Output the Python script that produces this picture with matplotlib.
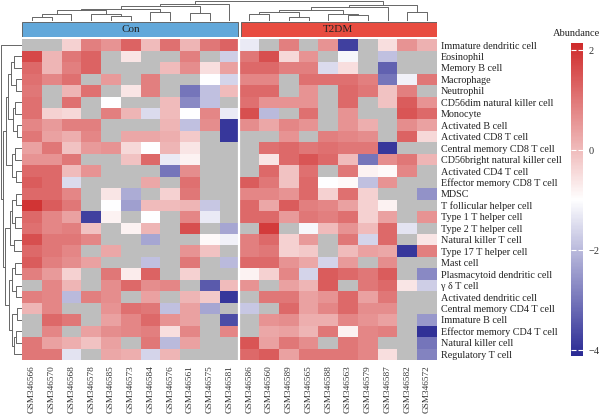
import numpy as np
import matplotlib
matplotlib.use("Agg")
import matplotlib.pyplot as plt
from matplotlib.colors import LinearSegmentedColormap
from matplotlib.patches import Rectangle

plt.rcParams['font.family'] = ['Liberation Serif', 'DejaVu Serif']

nan = np.nan

# samples (columns) and cell types (rows)
con_samples = ["GSM346566", "GSM346570", "GSM346568", "GSM346578", "GSM346585", "GSM346573",
               "GSM346584", "GSM346576", "GSM346561", "GSM346575", "GSM346581"]
t2dm_samples = ["GSM346586", "GSM346560", "GSM346589", "GSM346565", "GSM346588", "GSM346563",
                "GSM346579", "GSM346587", "GSM346582", "GSM346572"]
cell_types = ["Immature dendritic cell", "Eosinophil", "Memory B cell", "Macrophage", "Neutrophil",
              "CD56dim natural killer cell", "Monocyte", "Activated B cell", "Activated CD8 T cell",
              "Central memory CD8 T cell", "CD56bright natural killer cell", "Activated CD4 T cell",
              "Effector memory CD8 T cell", "MDSC", "T follicular helper cell", "Type 1 T helper cell",
              "Type 2 T helper cell", "Natural killer T cell", "Type 17 T helper cell", "Mast cell",
              "Plasmacytoid dendritic cell", "\u03b3 \u03b4 T cell", "Activated dendritic cell",
              "Central memory CD4 T cell", "Immature B cell", "Effector memory CD4 T cell",
              "Natural killer cell", "Regulatory T cell"]

# abundance, one list per cell type: 11 Con values then 10 T2DM values (nan = grey)
abundance = [
    [nan, nan, -0.3, 0.9, 0.6, 1.3, 0.0, 1.1, 0.1, 1.0, 1.3, -1.3, nan, 0.9, nan, 0.6, -3.8, nan, -0.5, 0.6, 0.15],
    [1.7, 0.1, 1.0, 1.3, nan, -0.6, nan, nan, 0.9, nan, -1.7, 1.0, 1.6, -0.4, 0.6, nan, -1.1, nan, -1.9, nan, nan],
    [1.2, 0.1, 0.9, 1.3, nan, nan, nan, 0.0, 0.7, -0.5, 0.4, 1.2, 1.2, 0.9, 0.9, -1.5, -0.5, nan, -3.3, nan, nan],
    [1.1, 0.8, 1.1, nan, 0.5, nan, 0.9, nan, nan, -1.0, -1.6, 0.8, 0.8, nan, 1.1, 1.1, 1.1, 0.9, -3.0, -1.2, 1.0],
    [1.0, nan, 0.1, 1.1, nan, -0.6, 0.9, nan, -3.0, -1.9, 0.0, 1.2, 1.2, nan, 0.6, nan, 1.2, 1.0, -0.1, 0.9, nan],
    [1.1, nan, 1.1, nan, -1.0, nan, nan, 0.0, -2.7, -1.9, nan, 1.1, 0.6, 0.6, 0.6, nan, 1.2, nan, -0.1, 1.4, 0.6],
    [1.1, -0.3, -0.4, nan, 0.9, 0.1, -1.5, 0.0, -1.0, 0.8, -1.3, 1.6, -2.0, nan, 1.1, nan, 0.6, nan, nan, 1.5, 1.2],
    [0.8, 0.5, 0.9, 0.9, nan, nan, nan, 0.1, -1.9, 0.7, -3.9, 0.7, 0.3, 0.8, 0.6, nan, 0.6, 0.2, nan, 0.7, 0.4],
    [1.0, 0.4, 0.2, 0.8, nan, 0.3, 0.3, 0.2, -0.2, nan, -3.9, nan, nan, 0.6, nan, 0.9, 0.8, 0.7, nan, 1.3, -0.4],
    [0.4, 1.0, -0.1, 0.5, 0.6, -0.4, -1.0, 0.1, -0.6, nan, nan, nan, 1.1, 1.2, 1.0, 1.1, 1.0, 1.0, -3.9, nan, nan],
    [0.6, 0.6, 1.0, nan, nan, -0.1, 1.2, -1.3, -0.8, nan, nan, nan, -0.6, 1.2, 1.5, 1.2, 0.0, -3.0, 0.7, 1.0, 0.1],
    [1.2, 1.2, 0.0, 0.6, nan, nan, nan, -3.0, 0.7, nan, nan, nan, 1.2, -0.1, 1.1, nan, 1.0, -0.8, -0.9, 0.8, nan],
    [1.4, 1.2, -1.5, nan, nan, nan, 0.3, nan, 1.1, nan, nan, 1.4, 1.0, -0.1, 1.2, -1.0, -0.9, -1.9, 0.6, nan, nan],
    [1.2, 1.2, 0.8, nan, -0.6, -2.2, nan, -0.3, 1.0, nan, nan, 0.8, 0.8, 0.6, 1.2, -0.3, 1.1, -0.3, nan, nan, -2.6],
    [2.0, 1.4, 1.0, nan, -1.0, -2.4, 0.0, 0.0, 0.1, -1.8, nan, 1.2, 0.3, 1.4, 0.9, 0.8, 0.4, -0.3, -0.8, nan, nan],
    [1.2, 0.8, 0.4, -3.8, -0.8, nan, -1.0, nan, 0.8, -1.3, nan, 1.2, 1.2, 0.5, 1.0, 0.9, 1.1, -0.3, 0.4, nan, 0.6],
    [1.1, 0.8, 0.9, -0.1, nan, -0.8, 0.1, nan, 1.6, nan, -2.3, nan, 1.9, nan, -1.1, 0.0, 0.6, 0.0, 1.2, -1.4, nan],
    [1.6, 1.0, 1.0, 0.8, nan, nan, -2.3, nan, nan, -0.9, -1.2, 0.9, 1.2, -0.3, 0.5, nan, 1.0, -1.6, 1.2, nan, -0.6],
    [1.2, 1.0, 0.8, nan, 0.3, nan, nan, nan, 0.6, -0.1, nan, 0.9, 1.0, -0.3, -0.2, nan, 0.0, 0.4, 0.3, -3.9, 0.9],
    [1.4, 0.9, 0.7, 0.4, nan, nan, -1.9, nan, 1.0, nan, -2.0, 1.2, 1.2, 0.6, 0.3, -1.6, 0.5, nan, 0.7, nan, nan],
    [0.9, 0.5, -0.3, nan, 1.0, -0.7, 1.3, nan, -0.3, nan, nan, -0.8, -0.3, 0.8, -1.6, 1.4, 1.2, 1.0, 1.4, nan, -2.7],
    [nan, 0.8, 0.1, nan, 0.7, 1.2, 0.7, 0.8, nan, -3.4, 0.0, 0.6, nan, 0.4, 0.1, 1.4, nan, 1.0, 1.2, -0.6, -1.7],
    [0.9, 0.8, -2.0, 0.9, 0.7, nan, 0.4, nan, 0.1, -0.2, -3.9, nan, 1.0, 1.0, 0.4, 0.6, 1.2, 0.4, 1.0, nan, nan],
    [0.1, 0.8, nan, nan, 0.6, 1.1, 1.0, -1.9, 0.4, -2.3, nan, -1.8, nan, 1.2, 0.4, 0.8, 1.2, 0.7, 0.7, nan, nan],
    [nan, 1.2, 1.0, nan, 0.4, 0.8, 1.2, 0.6, 0.4, nan, -3.6, nan, 0.6, 0.7, 0.2, 0.2, 0.8, 0.6, 0.4, nan, -2.5],
    [nan, 0.8, nan, 0.4, 0.7, 0.8, 0.9, -0.5, 0.8, nan, 0.8, nan, 0.3, 0.4, 0.1, 1.0, -0.8, 0.8, 0.9, nan, -4.0],
    [1.0, 0.4, 0.2, -0.1, 0.4, nan, 1.0, -2.0, 0.4, nan, nan, 1.5, 0.4, 1.0, 0.7, nan, 1.0, 0.8, nan, nan, -3.0],
    [1.0, 1.0, -1.4, nan, 0.3, 0.2, -1.6, 0.1, nan, nan, nan, 1.2, 1.4, 0.4, 1.0, 1.0, 1.0, 0.8, -0.5, nan, -2.8],
]

# dendrogram merges (left child, right child, height); new ids continue after the leaves
col_merges = [(0, 1, 4), (21, 2, 7), (4, 5, 5), (3, 23, 7), (22, 24, 11), (6, 7, 9), (8, 9, 8),
              (25, 26, 12.5), (28, 27, 15), (29, 10, 17.7),
              (11, 12, 7), (13, 14, 4.3), (31, 32, 9.3), (16, 17, 6), (15, 34, 7), (33, 35, 11.5),
              (36, 18, 14), (19, 20, 9), (37, 38, 16.5), (30, 39, 20.5)]
row_merges = [(1, 2, 7), (3, 4, 5), (28, 29, 10), (5, 6, 6), (7, 8, 4), (31, 32, 8), (30, 33, 13),
              (9, 10, 6), (11, 12, 5), (35, 36, 9), (34, 37, 15), (13, 14, 5), (15, 16, 6),
              (39, 40, 9), (17, 18, 7), (41, 42, 11), (19, 20, 6), (21, 22, 5), (44, 45, 9),
              (23, 24, 4), (25, 26, 5), (48, 27, 7), (47, 49, 9.5), (46, 50, 12), (43, 51, 16),
              (38, 52, 18), (0, 53, 20)]

W, H = 600, 415
fig = plt.figure(figsize=(W / 100, H / 100), dpi=100)


def px_axes(x0, y0, x1, y1):
    return fig.add_axes([x0 / W, 1 - y1 / H, (x1 - x0) / W, (y1 - y0) / H])


def draw_tree(ax, merges, n, side):
    pos = {i: i + 0.5 for i in range(n)}
    hgt = {i: 0 for i in range(n)}
    for k, (a, b, h) in enumerate(merges):
        xs = [pos[a], pos[a], pos[b], pos[b]]
        ys = [hgt[a], h, h, hgt[b]]
        if side == "top":
            ax.plot(xs, ys, color="#666666", lw=0.7)
        else:
            ax.plot(ys, xs, color="#666666", lw=0.7)
        pos[n + k] = (pos[a] + pos[b]) / 2
        hgt[n + k] = h


samples = con_samples + t2dm_samples
n_con = len(con_samples)
ncol, nrow = len(samples), len(cell_types)
data = np.ma.masked_invalid(np.array(abundance))

cmap = LinearSegmentedColormap.from_list("abund", ["#2a2a94", "white", "#cf2a2a"])
cmap.set_bad("#bebebe")
vmin, vmax = -4.12, 2.15

# heatmap
ax = px_axes(22, 39.3, 437, 360)
mesh = ax.pcolormesh(np.arange(ncol + 1), np.arange(nrow + 1), data, cmap=cmap, vmin=vmin, vmax=vmax)
ax.axvline(n_con, color="white", lw=1.6)
ax.set_xlim(0, ncol)
ax.set_ylim(nrow, 0)
ax.set_xticks(np.arange(ncol) + 0.5)
ax.set_xticklabels(samples, rotation=90, fontsize=6.7, color="#333333")
ax.set_yticks(np.arange(nrow) + 0.5)
ax.set_yticklabels(cell_types, fontsize=7.3, color="#222222")
ax.yaxis.tick_right()
ax.tick_params(axis="x", length=0, pad=4)
ax.tick_params(axis="y", length=0, pad=3)
for s in ax.spines.values():
    s.set_visible(False)

# group annotation bar
ann = px_axes(22, 22, 437, 37)
ann.add_patch(Rectangle((0, 0), n_con - 0.06, 1, facecolor="#62a8da", edgecolor="#555555", lw=0.6))
ann.add_patch(Rectangle((n_con + 0.06, 0), ncol - n_con - 0.06, 1, facecolor="#e84c40", edgecolor="#555555", lw=0.6))
ann.text(n_con / 2, 0.47, "Con", ha="center", va="center", fontsize=8, color="#222222")
ann.text(n_con + (ncol - n_con) / 2, 0.47, "T2DM", ha="center", va="center", fontsize=8, color="#222222")
ann.set_xlim(0, ncol)
ann.set_ylim(-0.02, 1.02)
ann.axis("off")

# dendrograms
top = px_axes(22, 0, 437, 21.5)
draw_tree(top, col_merges, ncol, "top")
top.set_xlim(0, ncol)
top.set_ylim(0, 21.2)
top.axis("off")

left = px_axes(0, 39.3, 21.5, 360)
draw_tree(left, row_merges, nrow, "left")
left.set_ylim(nrow, 0)
left.set_xlim(21.2, 0)
left.axis("off")

# colour bar
cax = px_axes(571, 43, 583, 356)
cb = fig.colorbar(mesh, cax=cax, ticks=[2, 0, -2, -4])
cb.outline.set_visible(False)
cax.tick_params(axis="y", direction="in", length=3.5, width=0.8, color="white",
                left=True, right=True, labelsize=7.5, labelcolor="#333333", pad=4)
fig.text(577 / W, 1 - 34 / H, "Abundance", ha="center", va="center", fontsize=7.5, color="#222222")

fig.savefig("out.png", dpi=100)
